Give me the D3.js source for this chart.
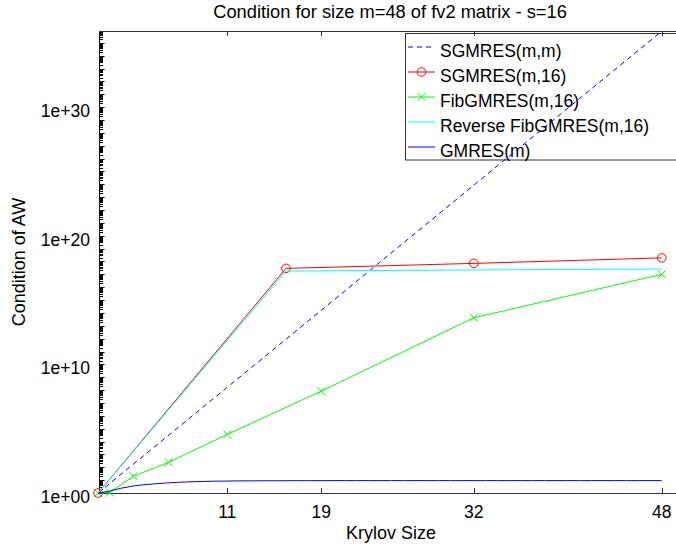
<!DOCTYPE html>
<html>
<head>
<meta charset="utf-8">
<script src="https://cdn.jsdelivr.net/npm/d3@7"></script>
<style>
  html, body { margin: 0; padding: 0; background: #fff; }
  svg { display: block; font-family: "Liberation Sans", Arial, Helvetica, sans-serif; }
</style>
</head>
<body>
<svg id="chart" width="676" height="546"></svg>
<script>
// ---- data ----
const xTicks = [11, 19, 32, 48];
const yTickLabels = ["1e+00", "1e+10", "1e+20", "1e+30"];
const yTicks = [1e0, 1e10, 1e20, 1e30];

const sgmresMMx = [0, 16, 32, 48];
const sgmresMMy = [1, 9e11, 8.6e23, 8e35];

const sgmres16x = [0, 16, 32, 48];
const sgmres16y = [1, 2.9e17, 7.1e17, 1.9e18];

const fibx = [0, 1, 3, 6, 11, 19, 32, 48];
const fiby = [1, 1.1, 20, 240, 3.6e4, 8.3e7, 4.2e13, 1.0e17];

const revFibx = [0, 16, 32, 48];
const revFiby = [1, 1.8e17, 2.2e17, 2.6e17];

const gmresx = [0,1,2,3,4,5,6,7,8,9,10,11,12,13,14,15,16,17,18,19,20,21,22,23,24,25,26,27,28,29,30,31,32,33,34,35,36,37,38,39,40,41,42,43,44,45,46,47,48];
const gmresy = [1,1.4,2.4,3.5,4.5,5.3,6.2,6.9,7.5,7.9,8.3,8.5,8.7,8.8,8.9,9.0,9.0,9.1,9.1,9.1,9.2,9.2,9.2,9.2,9.2,9.2,9.2,9.2,9.2,9.2,9.2,9.2,9.2,9.2,9.2,9.2,9.2,9.2,9.2,9.2,9.2,9.2,9.2,9.2,9.2,9.2,9.2,9.2,9.2];

const legendNames = ["SGMRES(m,m)", "SGMRES(m,16)", "FibGMRES(m,16)", "Reverse FibGMRES(m,16)", "GMRES(m)"];
const titleText = "Condition for size m=48 of fv2 matrix - s=16";
const xLabel = "Krylov Size";
const yLabel = "Condition of AW";

// ---- layout ----
const L = 99, R = 677, T = 31, B = 493;
const svg = d3.select("#chart");
const x = d3.scaleLinear().domain([0, 49.3]).range([L - 0.9, R]);
const y = d3.scaleLog().domain([1, Math.pow(10, 35.92)]).range([B, T]);
const axisColor = "#333";

svg.append("defs").append("clipPath").attr("id", "clip")
  .append("rect").attr("x", L - 6).attr("y", T).attr("width", R - L + 6).attr("height", B - T + 6);

// Minor ticks on y (log)
const minor = [];
for (let d = 0; d < 36; d++) for (let k = 1; k <= 9; k++) {
  const v = k * Math.pow(10, d);
  if (v <= y.domain()[1]) minor.push({ v, major: k === 1 });
}
const gTicks = svg.append("g").attr("stroke", "#000").attr("stroke-width", 1);
gTicks.selectAll("line.mn").data(minor).join("line")
  .attr("x1", L).attr("x2", d => L + (d.major ? 5.5 : 4))
  .attr("y1", d => Math.round(y(d.v)) + 0.5).attr("y2", d => Math.round(y(d.v)) + 0.5);

// x ticks bottom and top
svg.append("g").attr("stroke", axisColor).selectAll("line").data(xTicks).join("line")
  .attr("x1", d => Math.round(x(d)) + 0.5).attr("x2", d => Math.round(x(d)) + 0.5)
  .attr("y1", B).attr("y2", B - 5);
svg.append("g").attr("stroke", axisColor).selectAll("line").data(xTicks).join("line")
  .attr("x1", d => Math.round(x(d)) + 0.5).attr("x2", d => Math.round(x(d)) + 0.5)
  .attr("y1", T).attr("y2", T + 5);

// axes frame
svg.append("line").attr("x1", L + 0.5).attr("x2", L + 0.5).attr("y1", T).attr("y2", B + 0.5).attr("stroke", "#111");
svg.append("line").attr("x1", L).attr("x2", R).attr("y1", B + 0.5).attr("y2", B + 0.5).attr("stroke", axisColor);
svg.append("line").attr("x1", L).attr("x2", R).attr("y1", T + 0.5).attr("y2", T + 0.5).attr("stroke", axisColor);

// tick labels
svg.append("g").selectAll("text").data(xTicks).join("text")
  .attr("x", d => x(d)).attr("y", 518).attr("text-anchor", "middle")
  .attr("font-size", 17.5).text(d => d);
svg.append("g").selectAll("text").data(yTicks).join("text")
  .attr("x", 90).attr("y", d => y(d) + 10).attr("text-anchor", "end")
  .attr("font-size", 17.5).text((d, i) => yTickLabels[i]);

// titles
svg.append("text").attr("x", 390).attr("y", 18).attr("text-anchor", "middle").attr("font-size", 18.3).text(titleText);
svg.append("text").attr("x", 391).attr("y", 539).attr("text-anchor", "middle").attr("font-size", 18).text(xLabel);
svg.append("text").attr("transform", "translate(24.5,262) rotate(-90)").attr("text-anchor", "middle").attr("font-size", 18).text(yLabel);

// series
const series = [
  { xs: sgmresMMx, ys: sgmresMMy, color: "#0000ff", dash: "5,4", marker: null, width: 1 },
  { xs: sgmres16x, ys: sgmres16y, color: "#ff0000", dash: null, marker: "o", width: 1 },
  { xs: fibx, ys: fiby, color: "#00ff00", dash: null, marker: "x", width: 1 },
  { xs: revFibx, ys: revFiby, color: "#00ffff", dash: null, marker: null, width: 1 },
  { xs: gmresx, ys: gmresy, color: "#0000ff", dash: null, marker: null, width: 1 }
];
const line = d3.line().x(d => x(d[0])).y(d => y(d[1]));

// legend (transparent box, drawn beneath the data lines)
const lg = svg.append("g");
lg.append("rect").attr("x", 405.5).attr("y", 33.5).attr("width", 280).attr("height", 126.5)
  .attr("fill", "none").attr("stroke", axisColor);
legendNames.forEach((name, i) => {
  const s = series[i];
  const cy = 47 + i * 25;
  lg.append("line").attr("x1", 408).attr("x2", 435).attr("y1", cy).attr("y2", cy)
    .attr("stroke", s.color).attr("stroke-dasharray", s.dash);
  if (s.marker === "o") {
    lg.append("circle").attr("cx", 421.5).attr("cy", cy).attr("r", 4.3).attr("fill", "none").attr("stroke", s.color);
  } else if (s.marker === "x") {
    lg.append("path").attr("transform", `translate(421.5,${cy})`).attr("d", "M-4,-4L4,4M-4,4L4,-4").attr("stroke", s.color);
  }
  lg.append("text").attr("x", 440).attr("y", cy + 10).attr("font-size", 17.5).text(name);
});

const plot = svg.append("g").attr("clip-path", "url(#clip)");
series.forEach(s => {
  const pts = s.xs.map((v, j) => [v, s.ys[j]]);
  plot.append("path").datum(pts).attr("d", line).attr("fill", "none")
    .attr("stroke", s.color).attr("stroke-width", s.width)
    .attr("stroke-dasharray", s.dash);
  if (s.marker === "o") {
    plot.selectAll(null).data(pts).join("circle")
      .attr("cx", d => x(d[0])).attr("cy", d => y(d[1])).attr("r", 4.3)
      .attr("fill", "none").attr("stroke", s.color);
  } else if (s.marker === "x") {
    plot.selectAll(null).data(pts).join("path")
      .attr("transform", d => `translate(${x(d[0])},${y(d[1])})`)
      .attr("d", "M-4,-4L4,4M-4,4L4,-4").attr("stroke", s.color).attr("fill", "none");
  }
});
</script>
</body>
</html>
